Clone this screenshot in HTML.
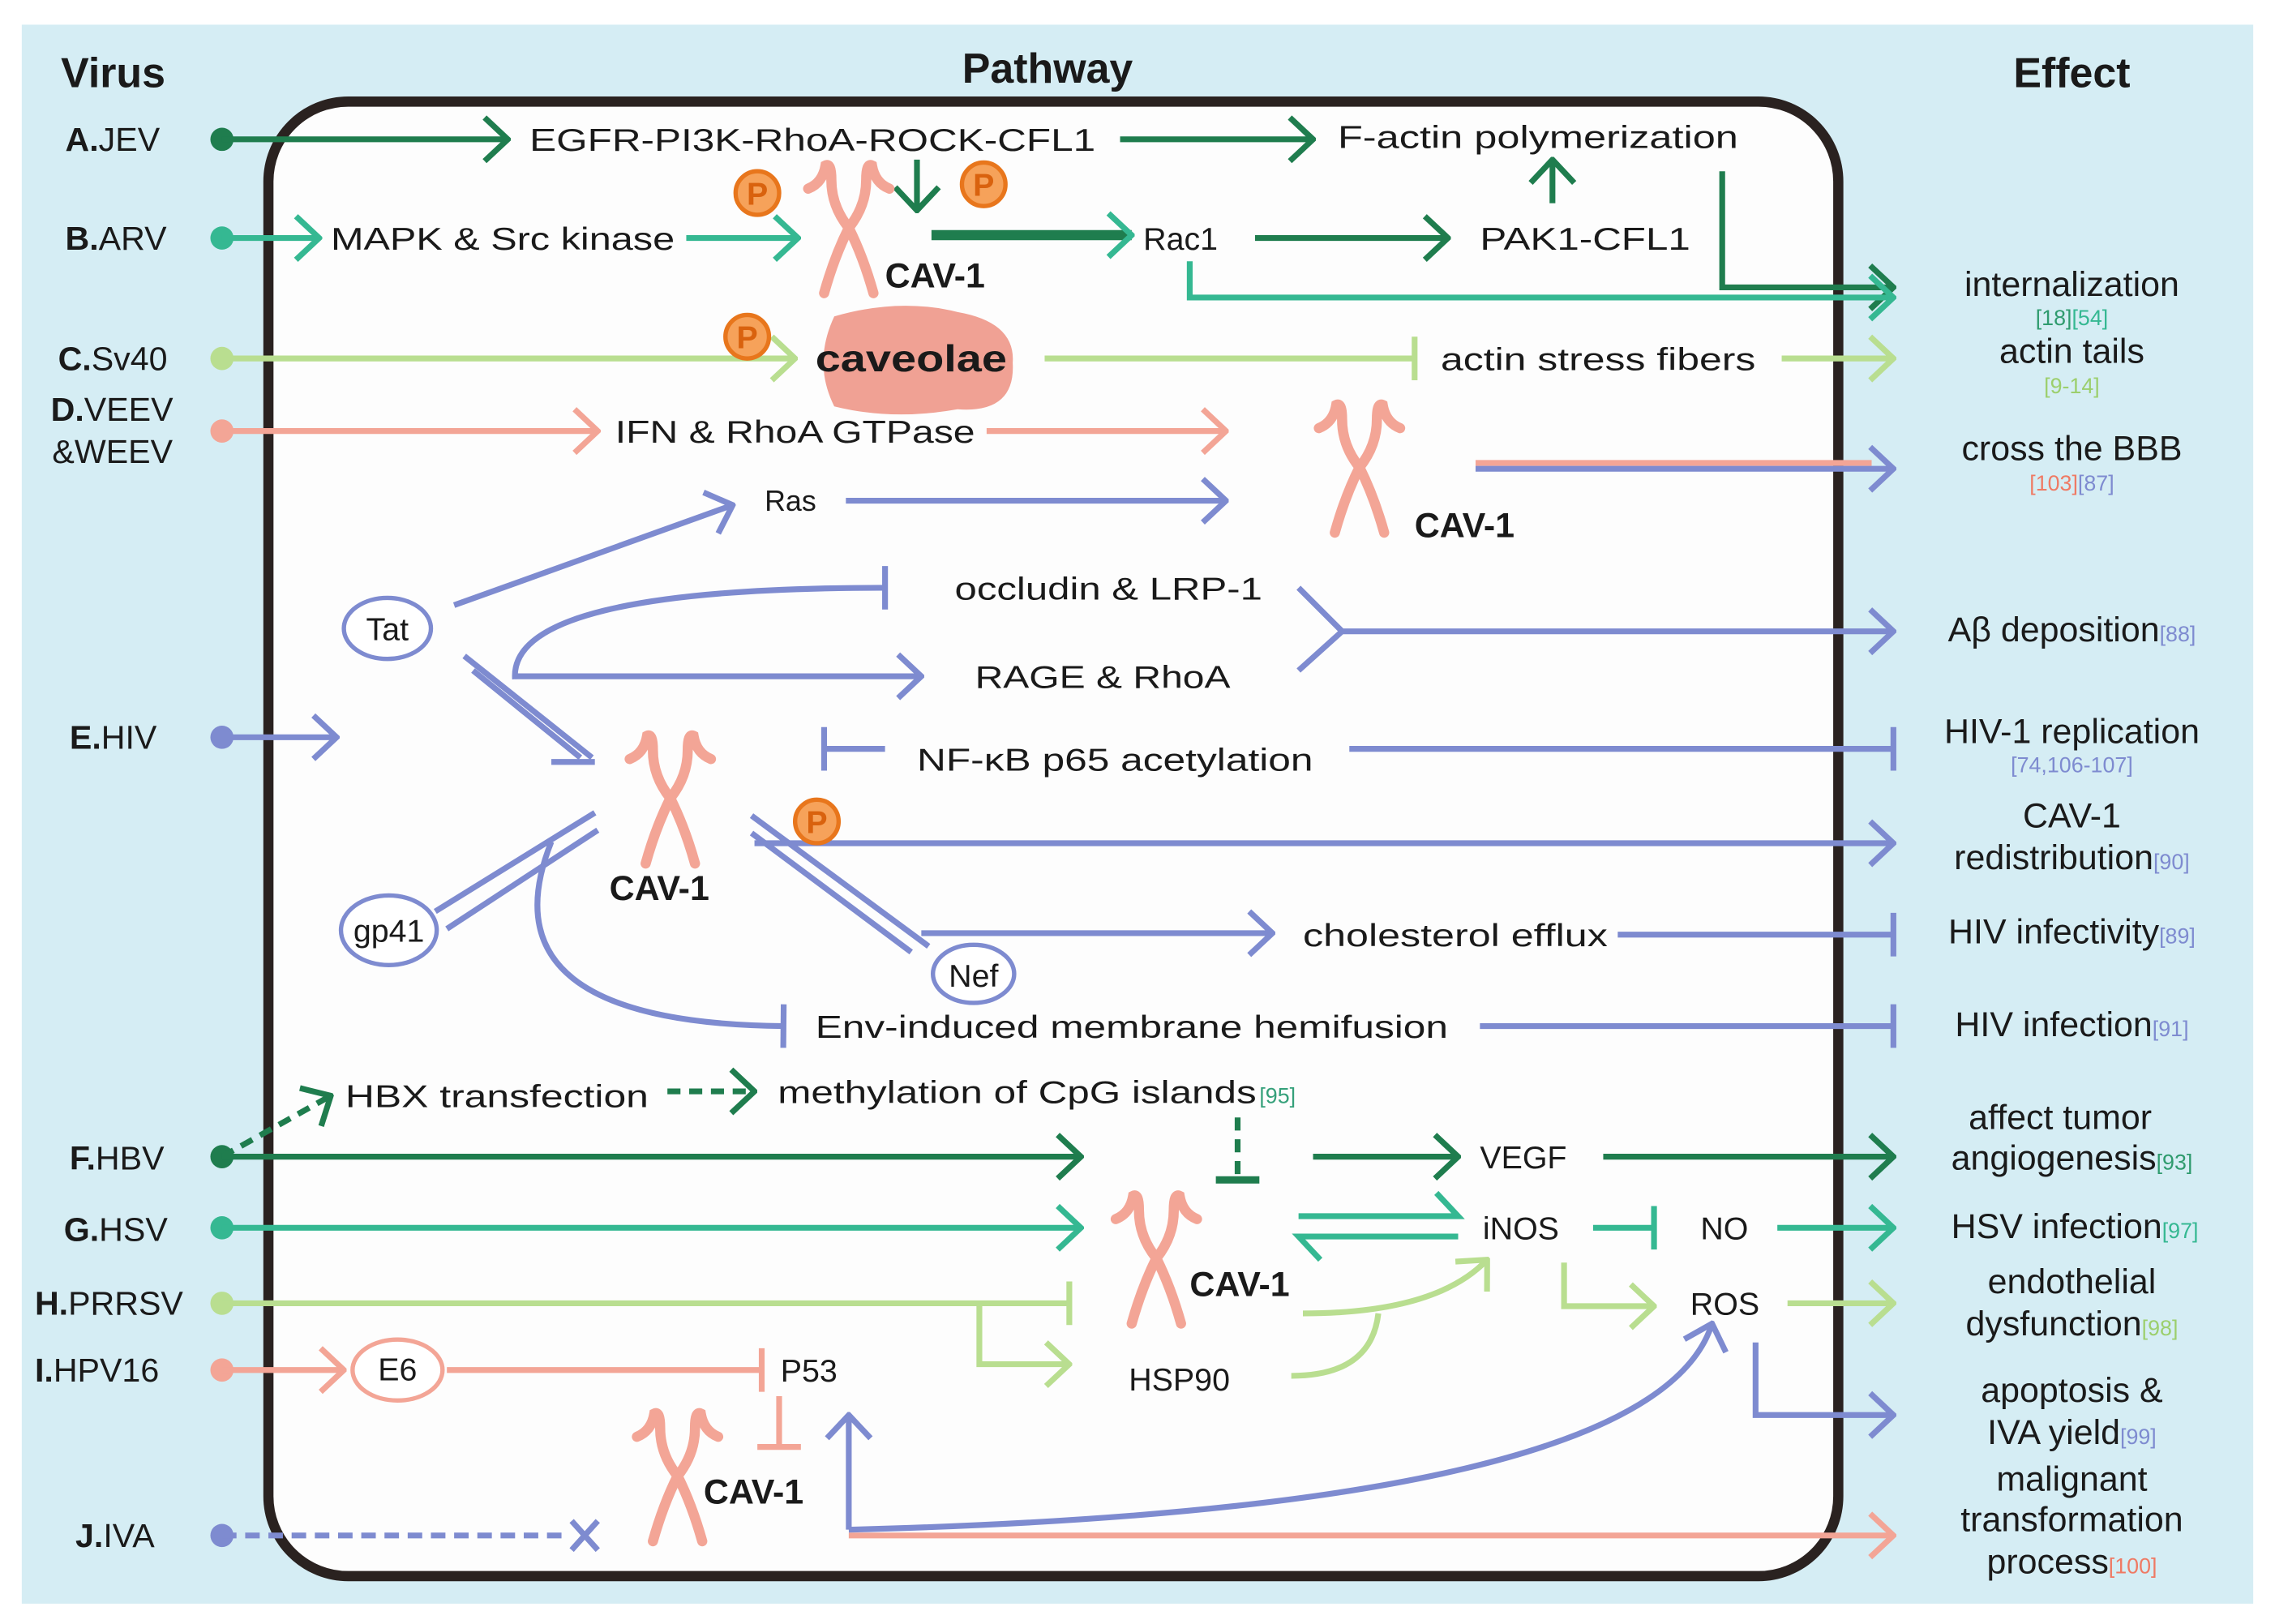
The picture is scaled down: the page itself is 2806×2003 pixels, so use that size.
<!DOCTYPE html>
<html><head><meta charset="utf-8"><style>
html,body{margin:0;padding:0;background:#fff;}
svg{display:block;}
text{font-family:"Liberation Sans",Arial,sans-serif;fill:#1a1a1a;}
.l{font-size:22px;}
.e{font-size:24px;text-anchor:middle;}
.b{font-weight:bold;}
.r{font-size:15px;}
</style></head><body>
<svg width="2806" height="2003" viewBox="0 0 1568 1119" preserveAspectRatio="none" xmlns="http://www.w3.org/2000/svg">
<defs>
<marker id="aDG" viewBox="0 0 20 34" refX="18" refY="17" markerWidth="20" markerHeight="34" markerUnits="userSpaceOnUse" orient="auto"><path d="M2,2 L18,17 L2,32" fill="none" stroke="#1f7d4e" stroke-width="4"/></marker>
<marker id="aTL" viewBox="0 0 20 34" refX="18" refY="17" markerWidth="20" markerHeight="34" markerUnits="userSpaceOnUse" orient="auto"><path d="M2,2 L18,17 L2,32" fill="none" stroke="#35b892" stroke-width="4"/></marker>
<marker id="aLG" viewBox="0 0 20 34" refX="18" refY="17" markerWidth="20" markerHeight="34" markerUnits="userSpaceOnUse" orient="auto"><path d="M2,2 L18,17 L2,32" fill="none" stroke="#b9de90" stroke-width="4"/></marker>
<marker id="aSA" viewBox="0 0 20 34" refX="18" refY="17" markerWidth="20" markerHeight="34" markerUnits="userSpaceOnUse" orient="auto"><path d="M2,2 L18,17 L2,32" fill="none" stroke="#f3a596" stroke-width="4"/></marker>
<marker id="aBL" viewBox="0 0 20 34" refX="18" refY="17" markerWidth="20" markerHeight="34" markerUnits="userSpaceOnUse" orient="auto"><path d="M2,2 L18,17 L2,32" fill="none" stroke="#7e8bd0" stroke-width="4"/></marker>
<marker id="tDG" viewBox="0 0 6 34" refX="3" refY="17" markerWidth="6" markerHeight="34" markerUnits="userSpaceOnUse" orient="auto"><path d="M3,2 L3,32" stroke="#1f7d4e" stroke-width="5"/></marker>
<marker id="tTL" viewBox="0 0 6 34" refX="3" refY="17" markerWidth="6" markerHeight="34" markerUnits="userSpaceOnUse" orient="auto"><path d="M3,2 L3,32" stroke="#35b892" stroke-width="4"/></marker>
<marker id="tLG" viewBox="0 0 6 34" refX="3" refY="17" markerWidth="6" markerHeight="34" markerUnits="userSpaceOnUse" orient="auto"><path d="M3,2 L3,32" stroke="#b9de90" stroke-width="4"/></marker>
<marker id="tSA" viewBox="0 0 6 34" refX="3" refY="17" markerWidth="6" markerHeight="34" markerUnits="userSpaceOnUse" orient="auto"><path d="M3,2 L3,32" stroke="#f3a596" stroke-width="4"/></marker>
<marker id="tBL" viewBox="0 0 6 34" refX="3" refY="17" markerWidth="6" markerHeight="34" markerUnits="userSpaceOnUse" orient="auto"><path d="M3,2 L3,32" stroke="#7e8bd0" stroke-width="4"/></marker>
<g id="cav" fill="none" stroke="#f3a596" stroke-width="7" stroke-linecap="round">
<path d="M0,45 Q12,30 12,12 Q12,0 16,2 Q18,14 28,18"/>
<path d="M0,45 Q-12,30 -12,12 Q-12,0 -16,2 Q-18,14 -28,18"/>
<path d="M0,45 Q-10,65 -17,90"/><path d="M0,45 Q10,65 17,90"/>
</g>
<g id="pp"><circle r="15" fill="#f6a25a" stroke="#e8761c" stroke-width="3"/><text x="0" y="8" text-anchor="middle" style="font-size:22px;fill:#d9620e;font-weight:bold">P</text></g>
</defs>

<rect x="15" y="17" width="1538" height="1088" fill="#d5edf4"/>
<rect x="185" y="70" width="1082" height="1016" rx="55" fill="#fdfdfd" stroke="#2a2220" stroke-width="7"/>

<text x="42" y="60" class="b" style="font-size:29px">Virus</text>
<text x="722" y="57" class="b" style="font-size:29px;text-anchor:middle">Pathway</text>
<text x="1428" y="60" class="b" style="font-size:29px;text-anchor:middle">Effect</text>

<g class="l" style="font-size:23px">
<text x="45" y="104"><tspan class="b">A.</tspan>JEV</text>
<text x="45" y="172"><tspan class="b">B.</tspan>ARV</text>
<text x="40" y="255"><tspan class="b">C.</tspan>Sv40</text>
<text x="35" y="290"><tspan class="b">D.</tspan>VEEV</text>
<text x="36" y="319">&amp;WEEV</text>
<text x="48" y="516"><tspan class="b">E.</tspan>HIV</text>
<text x="48" y="806"><tspan class="b">F.</tspan>HBV</text>
<text x="44" y="855"><tspan class="b">G.</tspan>HSV</text>
<text x="24" y="906"><tspan class="b">H.</tspan>PRRSV</text>
<text x="24" y="952"><tspan class="b">I.</tspan>HPV16</text>
<text x="52" y="1066"><tspan class="b">J.</tspan>IVA</text>
</g>
<circle cx="153" cy="96" r="8" fill="#1f7d4e"/>
<circle cx="153" cy="164" r="8" fill="#35b892"/>
<circle cx="153" cy="247" r="8" fill="#b9de90"/>
<circle cx="153" cy="297" r="8" fill="#f3a596"/>
<circle cx="153" cy="508" r="8" fill="#7e8bd0"/>
<circle cx="153" cy="797" r="8" fill="#1f7d4e"/>
<circle cx="153" cy="846" r="8" fill="#35b892"/>
<circle cx="153" cy="898" r="8" fill="#b9de90"/>
<circle cx="153" cy="944" r="8" fill="#f3a596"/>
<circle cx="153" cy="1058" r="8" fill="#7e8bd0"/>

<g fill="none" stroke-width="4">
<path d="M153,96 H350" stroke="#1f7d4e" marker-end="url(#aDG)"/>
<path d="M772,96 H905" stroke="#1f7d4e" marker-end="url(#aDG)"/>
<path d="M1070,140 V110" stroke="#1f7d4e" marker-end="url(#aDG)"/>
<path d="M632,110 V145" stroke="#1f7d4e" marker-end="url(#aDG)"/>
<path d="M1187,118 V198 H1305" stroke="#1f7d4e" marker-end="url(#aDG)"/>
<path d="M153,164 H220" stroke="#35b892" marker-end="url(#aTL)"/>
<path d="M473,164 H550" stroke="#35b892" marker-end="url(#aTL)"/>
<path d="M642,162 H780" stroke="#1f7d4e" stroke-width="7" marker-end="url(#aTL)"/>
<path d="M865,164 H998" stroke="#1f7d4e" marker-end="url(#aDG)"/>
<path d="M820,180 V205 H1305" stroke="#35b892" marker-end="url(#aTL)"/>
<path d="M153,247 H548" stroke="#b9de90" marker-end="url(#aLG)"/>
<path d="M720,247 H975" stroke="#b9de90" marker-end="url(#tLG)"/>
<path d="M1228,247 H1305" stroke="#b9de90" marker-end="url(#aLG)"/>
<path d="M153,297 H412" stroke="#f3a596" marker-end="url(#aSA)"/>
<path d="M680,297 H845" stroke="#f3a596" marker-end="url(#aSA)"/>
<path d="M1017,319 H1290" stroke="#f3a596"/>
<path d="M1017,323 H1305" stroke="#7e8bd0" marker-end="url(#aBL)"/>
<path d="M313,417 L505,348" stroke="#7e8bd0" marker-end="url(#aBL)"/>
<path d="M583,345 H845" stroke="#7e8bd0" marker-end="url(#aBL)"/>
<path d="M355,466 H635" stroke="#7e8bd0" marker-end="url(#aBL)"/>
<path d="M355,468 Q350,405 610,405" stroke="#7e8bd0" marker-end="url(#tBL)"/>
<path d="M895,405 L925,435 L895,462 M925,435 H1305" stroke="#7e8bd0" marker-end="url(#aBL)"/>
<path d="M153,508 H232" stroke="#7e8bd0" marker-end="url(#aBL)"/>
<path d="M320,452 L408,522 M326,462 L400,522" stroke="#7e8bd0"/>
<path d="M380,525 L410,525" stroke="#7e8bd0"/>
<path d="M610,516 H568" stroke="#7e8bd0" marker-end="url(#tBL)"/>
<path d="M930,516 H1305" stroke="#7e8bd0" marker-end="url(#tBL)"/>
<path d="M520,581 H1305" stroke="#7e8bd0" marker-end="url(#aBL)"/>
<path d="M300,628 L410,560 M308,640 L412,572" stroke="#7e8bd0"/>
<path d="M518,562 L640,652 M518,574 L628,656" stroke="#7e8bd0"/>
<path d="M635,643 H877" stroke="#7e8bd0" marker-end="url(#aBL)"/>
<path d="M1115,644 H1305" stroke="#7e8bd0" marker-end="url(#tBL)"/>
<path d="M380,580 Q330,705 540,707" stroke="#7e8bd0" marker-end="url(#tBL)"/>
<path d="M1020,707 H1305" stroke="#7e8bd0" marker-end="url(#tBL)"/>
<path d="M153,797 L228,755" stroke="#1f7d4e" stroke-dasharray="9,6" marker-end="url(#aDG)"/>
<path d="M460,752 H520" stroke="#1f7d4e" stroke-dasharray="9,6" marker-end="url(#aDG)"/>
<path d="M853,770 V813" stroke="#1f7d4e" stroke-dasharray="9,6" marker-end="url(#tDG)"/>
<path d="M153,797 H745" stroke="#1f7d4e" marker-end="url(#aDG)"/>
<path d="M905,797 H1005" stroke="#1f7d4e" marker-end="url(#aDG)"/>
<path d="M1105,797 H1305" stroke="#1f7d4e" marker-end="url(#aDG)"/>
<path d="M153,846 H745" stroke="#35b892" marker-end="url(#aTL)"/>
<path d="M895,838 H1005 L990,822" stroke="#35b892"/>
<path d="M1005,852 H895 L910,868" stroke="#35b892"/>
<path d="M1098,846 H1140" stroke="#35b892" marker-end="url(#tTL)"/>
<path d="M1225,846 H1305" stroke="#35b892" marker-end="url(#aTL)"/>
<path d="M153,898 H737" stroke="#b9de90" marker-end="url(#tLG)"/>
<path d="M675,898 V940 H737" stroke="#b9de90" marker-end="url(#aLG)"/>
<path d="M898,905 Q990,905 1025,868" stroke="#b9de90" marker-end="url(#aLG)"/>
<path d="M890,948 Q945,948 950,905" stroke="#b9de90"/>
<path d="M1078,870 V900 H1140" stroke="#b9de90" marker-end="url(#aLG)"/>
<path d="M1232,898 H1305" stroke="#b9de90" marker-end="url(#aLG)"/>
<path d="M153,944 H237" stroke="#f3a596" marker-end="url(#aSA)"/>
<path d="M308,944 H525" stroke="#f3a596" marker-end="url(#tSA)"/>
<path d="M537,962 V997" stroke="#f3a596" marker-end="url(#tSA)"/>
<path d="M153,1058 H390" stroke="#7e8bd0" stroke-dasharray="10,6"/>
<path d="M394,1048 L412,1068 M412,1048 L394,1068" stroke="#7e8bd0"/>
<path d="M585,1058 H1305" stroke="#f3a596" marker-end="url(#aSA)"/>
<path d="M585,1054 V975" stroke="#7e8bd0" marker-end="url(#aBL)"/>
<path d="M585,1054 Q1140,1040 1180,912" stroke="#7e8bd0" marker-end="url(#aBL)"/>
<path d="M1210,925 V975 H1305" stroke="#7e8bd0" marker-end="url(#aBL)"/>
</g>

<use href="#cav" x="585" y="112"/>
<use href="#cav" x="937" y="277"/>
<use href="#cav" x="462" y="505"/>
<use href="#cav" x="797" y="822"/>
<use href="#cav" x="467" y="972"/>
<path d="M575,218 Q620,205 660,215 Q700,222 698,250 Q700,285 660,282 Q615,290 575,280 Q560,250 575,218 Z" fill="#f0a194"/>
<use href="#pp" x="522" y="133"/>
<use href="#pp" x="678" y="127"/>
<use href="#pp" x="515" y="232"/>
<use href="#pp" x="563" y="566"/>
<g fill="#fff" stroke="#7e8bd0" stroke-width="3">
<ellipse cx="267" cy="433" rx="30" ry="21"/>
<ellipse cx="268" cy="641" rx="33" ry="24"/>
<ellipse cx="671" cy="671" rx="28" ry="20"/>
</g>
<ellipse cx="274" cy="944" rx="31" ry="21" fill="#fff" stroke="#f3a596" stroke-width="3"/>

<g class="l">
<text x="365" y="104" textLength="390" lengthAdjust="spacingAndGlyphs">EGFR-PI3K-RhoA-ROCK-CFL1</text>
<text x="922" y="102" textLength="276" lengthAdjust="spacingAndGlyphs">F-actin polymerization</text>
<text x="228" y="172" textLength="237" lengthAdjust="spacingAndGlyphs">MAPK &amp; Src kinase</text>
<text x="610" y="198" class="b" style="font-size:24px">CAV-1</text>
<text x="788" y="172">Rac1</text>
<text x="1020" y="172" textLength="145" lengthAdjust="spacingAndGlyphs">PAK1-CFL1</text>
<text x="562" y="256" class="b" style="font-size:26px" textLength="132" lengthAdjust="spacingAndGlyphs">caveolae</text>
<text x="993" y="255" textLength="217" lengthAdjust="spacingAndGlyphs">actin stress fibers</text>
<text x="424" y="305" textLength="248" lengthAdjust="spacingAndGlyphs">IFN &amp; RhoA GTPase</text>
<text x="975" y="370" class="b" style="font-size:24px">CAV-1</text>
<text x="527" y="352" style="font-size:20px">Ras</text>
<text x="267" y="441" text-anchor="middle">Tat</text>
<text x="658" y="413" textLength="212" lengthAdjust="spacingAndGlyphs">occludin &amp; LRP-1</text>
<text x="672" y="474" textLength="176" lengthAdjust="spacingAndGlyphs">RAGE &amp; RhoA</text>
<text x="632" y="531" textLength="273" lengthAdjust="spacingAndGlyphs">NF-κB p65 acetylation</text>
<text x="420" y="620" class="b" style="font-size:24px">CAV-1</text>
<text x="268" y="649" text-anchor="middle">gp41</text>
<text x="671" y="680" text-anchor="middle">Nef</text>
<text x="898" y="652" textLength="210" lengthAdjust="spacingAndGlyphs">cholesterol efflux</text>
<text x="562" y="715" textLength="436" lengthAdjust="spacingAndGlyphs">Env-induced membrane hemifusion</text>
<text x="238" y="763" textLength="209" lengthAdjust="spacingAndGlyphs">HBX transfection</text>
<text x="536" y="760" textLength="330" lengthAdjust="spacingAndGlyphs">methylation of CpG islands</text><text x="868" y="760" class="r" style="fill:#35a07a">[95]</text>
<text x="1020" y="805">VEGF</text>
<text x="1022" y="854">iNOS</text>
<text x="1172" y="854">NO</text>
<text x="820" y="893" class="b" style="font-size:24px">CAV-1</text>
<text x="1165" y="906">ROS</text>
<text x="778" y="958">HSP90</text>
<text x="274" y="951" text-anchor="middle">E6</text>
<text x="538" y="952">P53</text>
<text x="485" y="1036" class="b" style="font-size:24px">CAV-1</text>
</g>

<g class="e">
<text x="1428" y="204">internalization</text>
<text x="1428" y="224" class="r" style="fill:#2f9b6e">[18]<tspan style="fill:#35b892">[54]</tspan></text>
<text x="1428" y="250">actin tails</text>
<text x="1428" y="271" class="r" style="fill:#9ccf6d">[9-14]</text>
<text x="1428" y="317">cross the BBB</text>
<text x="1428" y="338" class="r" style="fill:#ef7a64">[103]<tspan style="fill:#7e8bd0">[87]</tspan></text>
<text x="1428" y="442">Aβ deposition<tspan class="r" style="fill:#7e8bd0">[88]</tspan></text>
<text x="1428" y="512">HIV-1 replication</text>
<text x="1428" y="532" class="r" style="fill:#7e8bd0">[74,106-107]</text>
<text x="1428" y="570">CAV-1</text>
<text x="1428" y="599">redistribution<tspan class="r" style="fill:#7e8bd0">[90]</tspan></text>
<text x="1428" y="650">HIV infectivity<tspan class="r" style="fill:#7e8bd0">[89]</tspan></text>
<text x="1428" y="714">HIV infection<tspan class="r" style="fill:#7e8bd0">[91]</tspan></text>
<text x="1420" y="778">affect tumor</text>
<text x="1428" y="806">angiogenesis<tspan class="r" style="fill:#2f9b6e">[93]</tspan></text>
<text x="1430" y="853">HSV infection<tspan class="r" style="fill:#35b892">[97]</tspan></text>
<text x="1428" y="891">endothelial</text>
<text x="1428" y="920">dysfunction<tspan class="r" style="fill:#9ccf6d">[98]</tspan></text>
<text x="1428" y="966">apoptosis &amp;</text>
<text x="1428" y="995">IVA yield<tspan class="r" style="fill:#7e8bd0">[99]</tspan></text>
<text x="1428" y="1027">malignant</text>
<text x="1428" y="1055">transformation</text>
<text x="1428" y="1084">process<tspan class="r" style="fill:#ef7a64">[100]</tspan></text>
</g>
</svg>
</body></html>
